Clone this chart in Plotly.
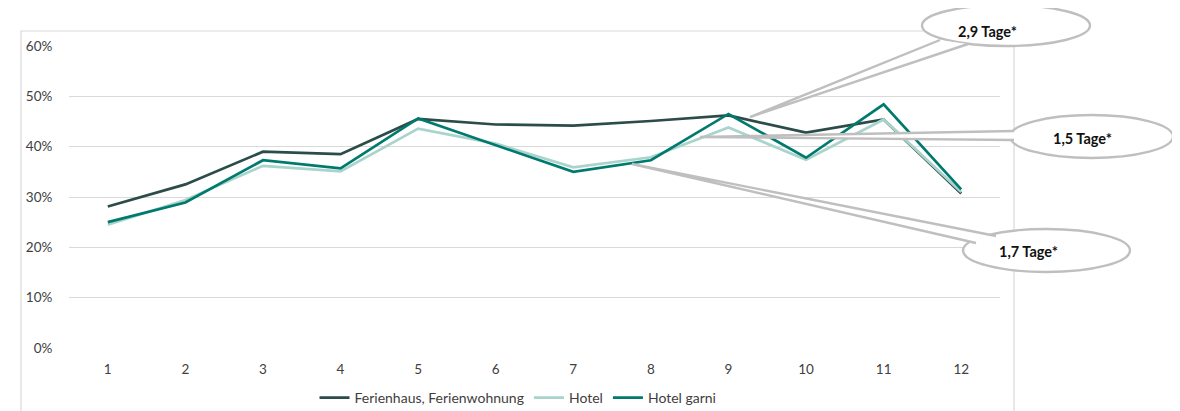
import plotly.graph_objects as go

months = [1, 2, 3, 4, 5, 6, 7, 8, 9, 10, 11, 12]
ferienhaus = [28.1, 32.5, 39.0, 38.5, 45.5, 44.4, 44.2, 45.1, 46.2, 42.8, 45.4, 30.7]
hotel = [24.5, 29.4, 36.2, 35.1, 43.6, 40.6, 35.9, 37.9, 43.8, 37.4, 45.4, 31.0]
hotel_garni = [25.0, 28.9, 37.3, 35.7, 45.6, 40.3, 35.0, 37.3, 46.5, 37.8, 48.4, 31.5]

series_names = ["Ferienhaus, Ferienwohnung", "Hotel", "Hotel garni"]
series_values = [ferienhaus, hotel, hotel_garni]
series_colors = ["#2b4c48", "#a9d4cc", "#007a6e"]

y_ticks = [0, 10, 20, 30, 40, 50, 60]
y_labels = ["0%", "10%", "20%", "30%", "40%", "50%", "60%"]

callout_texts = ["2,9 Tage*", "1,5 Tage*", "1,7 Tage*"]

FONT = "Lato"
OFF = 8  # default page body margin
W, H = 1180 - OFF, 411 - OFF
L, T = 69 - OFF, 46 - OFF
R = W - (1000 - OFF)
B = H - (348 - OFF)
PW = W - L - R
PH = H - T - B


def px(x):
    return (x - OFF - L) / PW


def py(y):
    return (H - B - (y - OFF)) / PH


fig = go.Figure()
for name, vals, col in zip(series_names, series_values, series_colors):
    fig.add_trace(go.Scatter(
        x=months, y=vals, name=name, mode="lines",
        line=dict(color=col, width=2.7),
        hoverinfo="skip",
    ))

shapes = []
# chart frame
shapes.append(dict(type="rect", xref="paper", yref="paper",
                   x0=px(21), x1=px(1014), y0=py(440), y1=py(31),
                   line=dict(color="#d9d9d9", width=1.2), fillcolor="rgba(0,0,0,0)",
                   layer="below"))

GREY = "#bfbfbf"
callouts = [
    dict(box=(922, 1090, 5, 46), wedge=((940, 40), (750, 117), (968, 44)), text=(987, 32)),
    dict(box=(1010, 1173, 115, 158), wedge=((1014, 131), (700, 137), (1014, 140)), text=(1082, 138)),
    dict(box=(963, 1130, 229, 272), wedge=((996, 236), (632, 164), (976, 243)), text=(1028, 252)),
]
annotations = []
for c, txt in zip(callouts, callout_texts):
    x0, x1, y0, y1 = c["box"]
    shapes.append(dict(type="circle", xref="paper", yref="paper",
                       x0=px(x0), x1=px(x1), y0=py(y1), y1=py(y0),
                       line=dict(color=GREY, width=2.4), fillcolor="white", layer="above"))
    (bx1, by1), (tx, ty), (bx2, by2) = c["wedge"]
    path = "M {:.5f},{:.5f} L {:.5f},{:.5f} L {:.5f},{:.5f}".format(
        px(bx1), py(by1), px(tx), py(ty), px(bx2), py(by2))
    shapes.append(dict(type="path", xref="paper", yref="paper", path=path,
                       line=dict(color=GREY, width=2.4), fillcolor="white", layer="above"))
    annotations.append(dict(xref="paper", yref="paper", x=px(c["text"][0]), y=py(c["text"][1]),
                            text="<b>" + txt + "</b>", showarrow=False,
                            font=dict(family=FONT, size=14.5, color="#111111"),
                            xanchor="center", yanchor="middle"))

fig.update_layout(
    width=W, height=H,
    margin=dict(l=L, r=R, t=T, b=B, autoexpand=False),
    paper_bgcolor="white", plot_bgcolor="white",
    font=dict(family=FONT, size=13, color="#404040"),
    showlegend=True,
    legend=dict(orientation="h", x=px(518), xanchor="center", y=py(398), yanchor="middle",
                font=dict(family=FONT, size=14, color="#404040"),
                itemwidth=30, tracegroupgap=0, bgcolor="rgba(0,0,0,0)"),
    shapes=shapes,
    annotations=annotations,
)
fig.update_xaxes(range=[0.5, 12.5], tickmode="array", tickvals=months,
                 ticktext=[str(m) for m in months], showgrid=False, zeroline=False,
                 showline=False, ticks="outside", ticklen=9, tickcolor="rgba(0,0,0,0)",
                 tickfont=dict(family=FONT, size=13.5, color="#404040"), fixedrange=True)
fig.update_yaxes(range=[0, 60], tickmode="array", tickvals=y_ticks, ticktext=y_labels,
                 showgrid=True, gridcolor="#d9d9d9", gridwidth=1, zeroline=False,
                 showline=False, ticks="outside", ticklen=13, tickcolor="rgba(0,0,0,0)",
                 tickfont=dict(family=FONT, size=13.5, color="#404040"), fixedrange=True)

fig.write_html("out.html")
